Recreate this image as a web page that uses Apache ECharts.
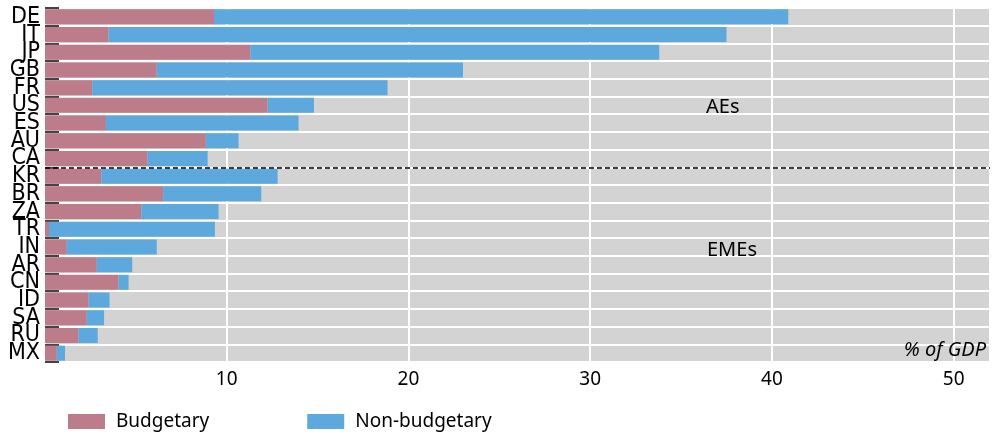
<!DOCTYPE html>
<html>
<head>
<meta charset="utf-8">
<script src="https://cdn.jsdelivr.net/npm/echarts@6/dist/echarts.min.js"></script>
<style>html,body{margin:0;padding:0;background:#fff;}#c{width:993px;height:435px;}</style>
</head>
<body>
<div id="c"></div>
<script>
const categories = ['DE','IT','JP','GB','FR','US','ES','AU','CA','KR','BR','ZA','TR','IN','AR','CN','ID','SA','RU','MX'];
const budgetary = [9.3, 3.5, 11.3, 6.15, 2.6, 12.25, 3.35, 8.85, 5.65, 3.1, 6.5, 5.3, 0.22, 1.2, 2.85, 4.05, 2.4, 2.3, 1.85, 0.65];
const totals = [40.9, 37.5, 33.8, 23.0, 18.85, 14.8, 13.95, 10.65, 8.95, 12.8, 11.9, 9.55, 9.35, 6.15, 4.8, 4.6, 3.55, 3.25, 2.9, 1.1];
const nonBudgetary = totals.map((t, i) => +(t - budgetary[i]).toFixed(2));
const xTicks = [10, 20, 30, 40, 50];
const groupLabels = ['AEs', 'EMEs'];
const dividerAfter = 'CA';
const unitLabel = '% of GDP';

const FONT = 'Noto Sans';
const NARROW = '"Liberation Sans Narrow", "DejaVu Sans Condensed", "Noto Sans"';
const chart = echarts.init(document.getElementById('c'), null, {renderer: 'canvas'});
const divIdx = categories.indexOf(dividerAfter) + 1;

chart.setOption({
  animation: false,
  textStyle: {fontFamily: FONT},
  grid: {left: 45, right: 3, top: 8, bottom: 73, show: true, backgroundColor: '#D3D3D3', borderWidth: 0},
  legend: {
    left: 63, top: 407, itemWidth: 37, itemHeight: 15, itemGap: 98, icon: 'rect',
    textStyle: {fontFamily: FONT, fontSize: 19, color: '#000', padding: [0, 0, 0, 6]},
    data: ['Budgetary', 'Non-budgetary']
  },
  xAxis: {
    type: 'value', min: 0, max: 52, interval: 10,
    axisLine: {show: false}, axisTick: {show: false},
    axisLabel: {
      fontFamily: FONT, fontSize: 19, color: '#000', margin: 8,
      formatter: v => xTicks.includes(v) ? String(v) : ''
    },
    splitLine: {show: true, lineStyle: {color: '#fff', width: 2}}
  },
  yAxis: [{
    type: 'category', data: categories, inverse: true,
    axisLine: {show: false},
    axisTick: {show: true, inside: true, length: 14, interval: 0, lineStyle: {color: '#444', width: 2}},
    axisLabel: {fontFamily: NARROW, fontSize: 23, color: '#000', margin: 5, lineHeight: 16, interval: 0},
    splitLine: {show: true, interval: 0, lineStyle: {color: '#fff', width: 2}}
  }, {
    type: 'value', min: 0, max: categories.length, inverse: true, show: false
  }],
  series: [{
    name: 'Budgetary', type: 'bar', stack: 'a', data: budgetary,
    barCategoryGap: '15%', itemStyle: {color: '#BC7C8A'}, z: 3
  }, {
    name: 'Non-budgetary', type: 'bar', stack: 'a', data: nonBudgetary,
    barCategoryGap: '15%', itemStyle: {color: '#5DA8DC'}, z: 3
  }, {
    type: 'scatter', yAxisIndex: 1, data: [[0, divIdx]], symbolSize: 0, silent: true,
    markLine: {
      silent: true, symbol: 'none', label: {show: false},
      lineStyle: {color: '#000', type: [5, 3], width: 1.5},
      data: [{yAxis: divIdx}]
    }
  }],
  graphic: [
    {type: 'text', left: 706, top: 97, style: {text: groupLabels[0], font: '20px "Noto Sans"', fill: '#000'}, z: 10},
    {type: 'text', left: 707, top: 240, style: {text: groupLabels[1], font: '20px "Noto Sans"', fill: '#000'}, z: 10},
    {type: 'text', right: 7, top: 340, style: {text: unitLabel, font: 'italic 20px "Noto Sans"', fill: '#000'}, z: 10}
  ]
});
</script>
</body>
</html>
